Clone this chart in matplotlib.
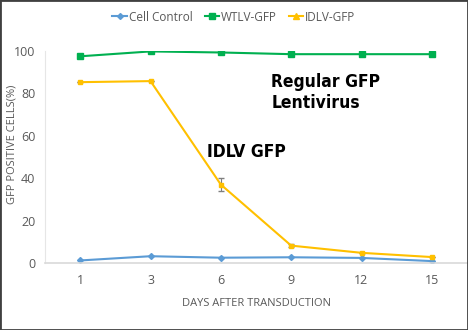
import matplotlib
matplotlib.use("Agg")
import matplotlib.pyplot as plt
from matplotlib.lines import Line2D
from matplotlib.patches import Rectangle

days = ["1", "3", "6", "9", "12", "15"]
cell_control = [1.2, 3.2, 2.5, 2.7, 2.4, 0.9]
wtlv_gfp = [97.5, 99.8, 99.3, 98.5, 98.5, 98.5]
idlv_gfp = [85.3, 85.8, 37.0, 8.2, 4.8, 2.8]
idlv_err = [0, 0, 3.0, 0.6, 0, 0]

plt.rcParams["font.family"] = ["Open Sans", "DejaVu Sans"]
gray = "#595959"
blue, green, yellow = "#5B9BD5", "#00B050", "#FFC000"

fig = plt.figure(figsize=(4.68, 3.3), dpi=100)
ax = fig.add_axes([45 / 468, 1 - 263 / 330, 422 / 468, 212 / 330])

x = list(range(len(days)))
ax.plot(x, cell_control, color=blue, marker="D", markersize=3, lw=1.5)
ax.plot(x, wtlv_gfp, color=green, marker="s", markersize=4, lw=1.5)
ax.errorbar(x, idlv_gfp, yerr=idlv_err, color=yellow, marker="s", markersize=3.5, lw=1.5,
            ecolor="#7F7F7F", elinewidth=0.8, capsize=2)

ax.set_xlim(-0.5, len(days) - 0.5)
ax.set_ylim(0, 100)
ax.set_xticks(x)
ax.set_xticklabels(days)
ax.set_yticks([0, 20, 40, 60, 80, 100])
ax.tick_params(length=0, colors=gray, labelsize=9, pad=8)
ax.tick_params(axis="y", pad=7)
for s in ["top", "right"]:
    ax.spines[s].set_visible(False)
ax.spines["left"].set_color("#E6E6E6")
ax.spines["bottom"].set_color("#D9D9D9")
ax.spines["bottom"].set_linewidth(1.2)

ax.set_xlabel("DAYS AFTER TRANSDUCTION", color=gray, fontsize=8)
ax.xaxis.set_label_coords(0.5, -0.165)
ax.set_ylabel("GFP POSITIVE CELLS(%)", color=gray, fontsize=8)
ax.yaxis.set_label_coords(-0.064, 0.56)

ax.text(2.72, 89.5, "Regular GFP\nLentivirus", fontsize=12.5, fontweight="bold", va="top",
        ha="left", linespacing=1.2, family="DejaVu Sans", fontstretch="condensed")
ax.text(1.8, 52.5, "IDLV GFP", fontsize=12.5, fontweight="bold", va="center", ha="left",
        family="DejaVu Sans", fontstretch="condensed")

handles = [
    Line2D([], [], color=blue, marker="D", markersize=3, lw=1.5),
    Line2D([], [], color=green, marker="s", markersize=4, lw=1.5),
    Line2D([], [], color=yellow, marker="^", markersize=4, lw=1.5),
]
fig.legend(handles, ["Cell Control", "WTLV-GFP", "IDLV-GFP"], loc="upper center",
           bbox_to_anchor=(0.5, 1.0), ncol=3, frameon=False, fontsize=8.5,
           labelcolor=gray, handlelength=1.2, handletextpad=0.2, columnspacing=1.0)

fig.patches.append(Rectangle((0, 0), 1, 1, transform=fig.transFigure, fill=False,
                             edgecolor="#404040", lw=2))

fig.savefig("out.png", dpi=100)
